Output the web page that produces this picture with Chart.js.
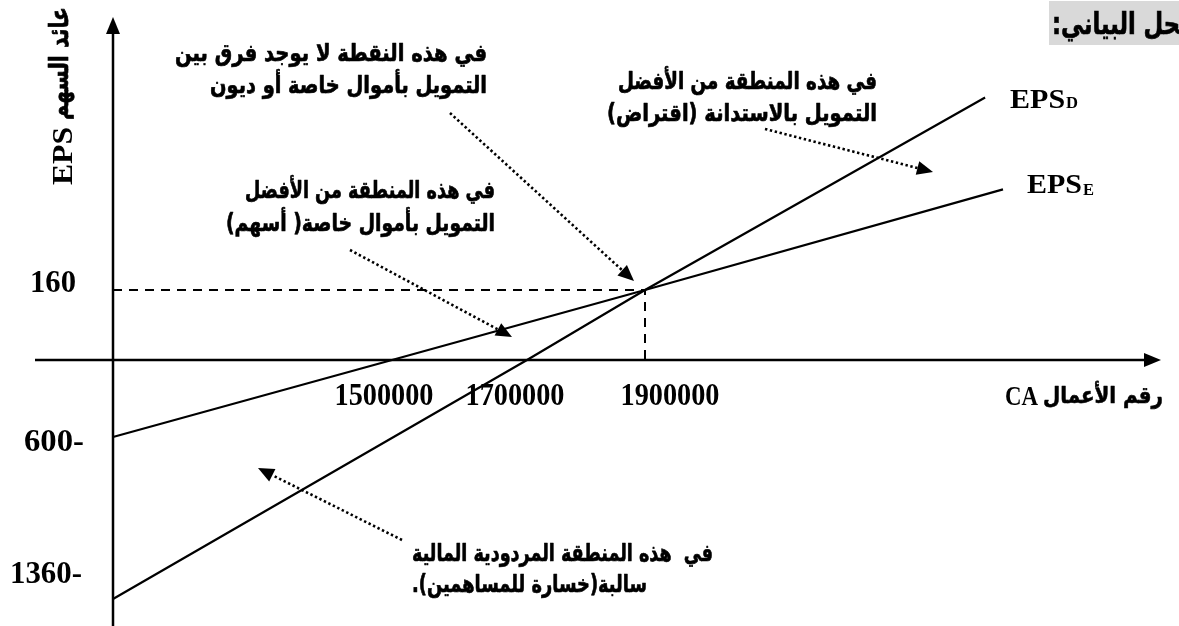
<!DOCTYPE html>
<html>
<head>
<meta charset="utf-8">
<script src="https://cdn.jsdelivr.net/npm/chart.js@4.4.1/dist/chart.umd.min.js"></script>
<style>
  html, body { margin: 0; padding: 0; background: #fff; }
  #wrap { width: 1179px; height: 626px; position: relative; }
</style>
</head>
<body>
<div id="wrap"><canvas id="chart"></canvas></div>
<script>
// EPS_E : financing with own funds (shares)
const caEquity = [0, 1500000, 1900000, 2500000];
const epsEquity = [-600, 0, 160, 390];

// EPS_D : financing with debt (borrowing)
const caDebt = [0, 1700000, 1900000, 2470000];
const epsDebt = [-1360, 0, 160, 600];

// indifference point guides
const caGuide = [0, 1900000, 1900000];
const epsGuide = [160, 160, 0];

// labelled ticks
const caTicks = [1500000, 1700000, 1900000];
const epsTicks = [160, -600, -1360];

// the drawing is schematic, not to scale: value -> pixel knots on the 1179x626 page
const xKnots = [[0, 113], [1500000, 392], [1700000, 527], [1900000, 645], [2500000, 1003]];
const yKnots = [[-1360, 599], [-600, 437], [0, 360], [160, 290], [600, 97.5]];

class SchematicScale extends Chart.LinearScale {
  static id = 'schematic';
  static defaults = Chart.LinearScale.defaults;
  getPixelForValue(value) {
    const knots = this.isHorizontal() ? xKnots : yKnots;
    let i = 0;
    while (i < knots.length - 2 && value > knots[i + 1][0]) i++;
    const [v0, p0] = knots[i];
    const [v1, p1] = knots[i + 1];
    const p = p0 + (value - v0) * (p1 - p0) / (v1 - v0);
    return this.isHorizontal() ? this.left + p * this.width / 1179 : this.top + p * this.height / 626;
  }
  getValueForPixel() { return 0; }
}
Chart.register(SchematicScale);

const NUM_FONT = 'bold 32px "Liberation Serif", "Times New Roman", serif';
const SERIF = '"Liberation Serif", "Times New Roman", serif';
const AR = '"DejaVu Sans", sans-serif';
const AR_FONT = 'bold 24px ' + AR;

// draw text squeezed/stretched to a given width; heavy adds a thin outline
function fitText(ctx, text, x, y, width, font, align, dir, heavy) {
  ctx.save();
  ctx.font = font;
  ctx.direction = dir || 'ltr';
  ctx.textAlign = 'left';
  ctx.textBaseline = 'alphabetic';
  ctx.fillStyle = '#000';
  const w = ctx.measureText(text).width;
  const left = align === 'right' ? x - width : align === 'center' ? x - width / 2 : x;
  ctx.translate(left, y);
  ctx.scale(width / w, 1);
  ctx.fillText(text, 0, 0);
  if (heavy) {
    ctx.strokeStyle = '#000';
    ctx.lineWidth = heavy;
    ctx.lineJoin = 'round';
    ctx.strokeText(text, 0, 0);
  }
  ctx.restore();
}

function arrow(ctx, from, to) {
  const ang = Math.atan2(to[1] - from[1], to[0] - from[0]);
  const len = 16, half = 7;
  const bx = to[0] - len * Math.cos(ang), by = to[1] - len * Math.sin(ang);
  ctx.save();
  ctx.strokeStyle = '#000';
  ctx.lineWidth = 2.6;
  ctx.setLineDash([2.4, 2.6]);
  ctx.beginPath();
  ctx.moveTo(from[0], from[1]);
  ctx.lineTo(bx, by);
  ctx.stroke();
  ctx.setLineDash([]);
  ctx.fillStyle = '#000';
  ctx.beginPath();
  ctx.moveTo(to[0], to[1]);
  ctx.lineTo(bx + half * Math.sin(ang), by - half * Math.cos(ang));
  ctx.lineTo(bx - half * Math.sin(ang), by + half * Math.cos(ang));
  ctx.closePath();
  ctx.fill();
  ctx.restore();
}

// label placement (layout only)
const caTickShift = [-8, -12, 25];
const epsTickLayout = [{ left: 30, width: 46, dy: 2 }, { left: 24, width: 60, dy: 14 }, { left: 10, width: 72, dy: -16 }];

const notes = [
  { lines: ['في هذه النقطة لا يوجد فرق بين', 'التمويل بأموال خاصة أو ديون'],
    x: 487, align: 'right', base: [61, 93], widths: [312, 277], from: [450, 113], to: [634, 281] },
  { lines: ['في هذه المنطقة من الأفضل', 'التمويل بالاستدانة (اقتراض)'],
    x: 877, align: 'right', base: [89, 121], widths: [259, 270], from: [765, 129], to: [933, 172] },
  { lines: ['في هذه المنطقة من الأفضل', 'التمويل بأموال خاصة( أسهم)'],
    x: 495, align: 'right', base: [198, 231], widths: [250, 269], from: [350, 250], to: [512, 337] },
  { lines: ['في  هذه المنطقة المردودية المالية', 'سالبة(خسارة للمساهمين).'],
    x: 412, align: 'left', base: [561, 592], widths: [301, 235], from: [402, 540], to: [258, 468] }
];

const decor = {
  id: 'decor',
  beforeDatasetsDraw(chart) {
    const ctx = chart.ctx, xs = chart.scales.x, ys = chart.scales.y;
    const base = ys.getPixelForValue(0) + 45;
    caTicks.forEach((v, i) => {
      const cx = xs.getPixelForValue(v) + caTickShift[i];
      if (i > 0) {
        ctx.fillStyle = '#fff';
        ctx.fillRect(cx - 82, base - 28, 164, 36);
      }
      fitText(ctx, String(v), cx, base, 99, NUM_FONT, 'center');
    });
  },
  afterDatasetsDraw(chart) {
    const ctx = chart.ctx, xs = chart.scales.x, ys = chart.scales.y;
    const x0 = xs.getPixelForValue(0), y0 = ys.getPixelForValue(0);

    // axes with arrow heads
    ctx.save();
    ctx.strokeStyle = '#000';
    ctx.fillStyle = '#000';
    ctx.lineWidth = 2.5;
    ctx.beginPath();
    ctx.moveTo(35, y0);
    ctx.lineTo(1146, y0);
    ctx.moveTo(x0, 626);
    ctx.lineTo(x0, 33);
    ctx.stroke();
    ctx.beginPath();
    ctx.moveTo(1161, y0);
    ctx.lineTo(1144, y0 - 7);
    ctx.lineTo(1144, y0 + 7);
    ctx.closePath();
    ctx.fill();
    ctx.beginPath();
    ctx.moveTo(x0, 17);
    ctx.lineTo(x0 - 7, 34);
    ctx.lineTo(x0 + 7, 34);
    ctx.closePath();
    ctx.fill();
    ctx.restore();

    // EPS tick labels (minus sign written after the number)
    epsTicks.forEach((v, i) => {
      const t = epsTickLayout[i];
      const txt = v < 0 ? Math.abs(v) + '-' : String(v);
      fitText(ctx, txt, t.left, ys.getPixelForValue(v) + t.dy, t.width, NUM_FONT, 'left');
    });

    // series labels at the end of each line
    const dEnd = [xs.getPixelForValue(caDebt[caDebt.length - 1]), ys.getPixelForValue(epsDebt[epsDebt.length - 1])];
    const eEnd = [xs.getPixelForValue(caEquity[caEquity.length - 1]), ys.getPixelForValue(epsEquity[epsEquity.length - 1])];
    fitText(ctx, 'EPS', dEnd[0] + 25, dEnd[1] + 10, 55, 'bold 27px ' + SERIF, 'left');
    fitText(ctx, 'D', dEnd[0] + 81, dEnd[1] + 10, 12, 'bold 16px ' + SERIF, 'left');
    fitText(ctx, 'EPS', eEnd[0] + 24, eEnd[1] + 4, 55, 'bold 27px ' + SERIF, 'left');
    fitText(ctx, 'E', eEnd[0] + 80, eEnd[1] + 6, 11, 'bold 16px ' + SERIF, 'left');

    // x axis title
    fitText(ctx, 'CA', 1005, y0 + 45, 33, 'bold 27px ' + SERIF, 'left');
    fitText(ctx, 'رقم الأعمال', 1163, y0 + 43, 120, 'bold 23px ' + AR, 'right', 'rtl', 0.6);

    // y axis title, rotated
    ctx.save();
    ctx.translate(62, 96);
    ctx.rotate(-Math.PI / 2);
    fitText(ctx, 'EPS', -89, 10, 58, 'bold 29px ' + SERIF, 'left');
    fitText(ctx, 'عائد السهم', -24, 6, 113, 'bold 26px ' + AR, 'left', 'rtl', 0.7);
    ctx.restore();

    // annotations with dotted arrows
    notes.forEach(n => {
      n.lines.forEach((line, i) => fitText(ctx, line, n.x, n.base[i], n.widths[i], AR_FONT, n.align, 'rtl', 0.7));
      arrow(ctx, n.from, n.to);
    });

    // heading, cut by the page edge
    ctx.save();
    ctx.fillStyle = '#d9d9d9';
    ctx.fillRect(1049, 1, 130, 44);
    ctx.font = 'bold 30px ' + AR;
    ctx.direction = 'rtl';
    ctx.textAlign = 'left';
    const s = 128 / ctx.measureText('حل البياني:').width;
    ctx.fillStyle = '#000';
    ctx.strokeStyle = '#000';
    ctx.lineWidth = 0.7;
    ctx.translate(1052, 34);
    ctx.scale(s, 1);
    ctx.fillText('الحل البياني:', 0, 0);
    ctx.strokeText('الحل البياني:', 0, 0);
    ctx.restore();
  }
};

const pts = (xs, ys) => xs.map((x, i) => ({ x, y: ys[i] }));

new Chart(document.getElementById('chart'), {
  type: 'line',
  data: {
    datasets: [
      { label: 'EPS_D', data: pts(caDebt, epsDebt), borderColor: '#000', borderWidth: 2.2 },
      { label: 'EPS_E', data: pts(caEquity, epsEquity), borderColor: '#000', borderWidth: 2.2 },
      { label: 'guide', data: pts(caGuide, epsGuide), borderColor: '#000', borderWidth: 2, borderDash: [9, 7] }
    ]
  },
  options: {
    responsive: true,
    maintainAspectRatio: false,
    devicePixelRatio: 1,
    animation: false,
    events: [],
    layout: { padding: 0 },
    elements: { point: { radius: 0 }, line: { tension: 0, fill: false } },
    plugins: { legend: { display: false }, tooltip: { enabled: false } },
    scales: {
      x: { type: 'schematic', display: false },
      y: { type: 'schematic', display: false }
    }
  },
  plugins: [decor]
});
</script>
</body>
</html>
